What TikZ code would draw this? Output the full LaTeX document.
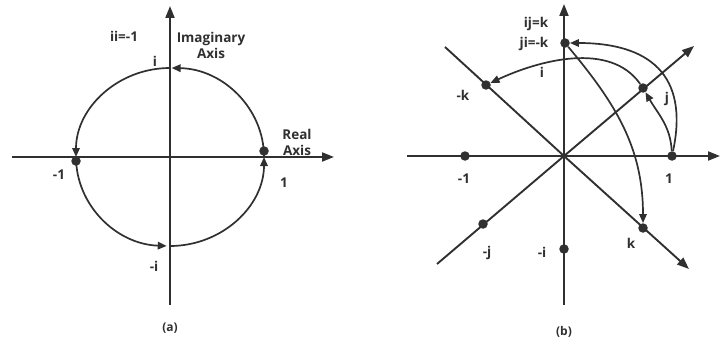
\documentclass[tikz,border=0pt]{standalone}
\usepackage{fontspec}
\setmainfont{Open Sans}
\usetikzlibrary{arrows.meta}
\definecolor{ink}{HTML}{303030}
\begin{document}
\begin{tikzpicture}[x=1pt,y=-1pt,
  axis/.style={ink, line width=1.9pt, -{Triangle[length=12pt,width=9pt]}},
  plainline/.style={ink, line width=1.9pt},
  curvearrow/.style={ink, line width=1.7pt, -{Triangle[length=9pt,width=7.5pt]}},
  dot/.style={circle, fill=ink, inner sep=0pt, minimum size=9.5pt},
  lab/.style={text=ink, font=\bfseries\fontsize{13.5}{16}\selectfont, inner sep=0pt, align=center},
  captext/.style={text=ink, font=\bfseries\fontsize{12}{14}\selectfont, inner sep=0pt}]
\useasboundingbox (0,0) rectangle (720,345);
% ---------- panel (a) ----------
\coordinate (axL) at (12,157);
\coordinate (axR) at (334,157);
\coordinate (ayB) at (170,305);
\coordinate (ayT) at (170,6);
\draw[axis] (axL) -- (axR);
\draw[axis] (ayB) -- (ayT);
\coordinate (p1) at (264,157);
\coordinate (pi) at (170,68);
\coordinate (pm1) at (76,157);
\coordinate (pmi) at (170,246);
\draw[curvearrow] (p1) arc[start angle=0,end angle=89,x radius=94pt,y radius=89pt];
\draw[curvearrow] (pi) arc[start angle=90,end angle=180,x radius=94pt,y radius=89pt];
\draw[curvearrow] (pm1) arc[start angle=180,end angle=268,x radius=94pt,y radius=89pt];
\draw[curvearrow] (pmi) arc[start angle=270,end angle=360,x radius=94pt,y radius=89pt];
\node[dot] (da1) at (264,151) {};
\node[dot] (dam1) at (76,161) {};
\node[lab] (tii) at (124,36) {ii=-1};
\node[lab] (timag) at (211,45) {Imaginary\\Axis};
\node[lab] (ti) at (155,61) {i};
\node[lab] (treal) at (297,142) {Real\\Axis};
\node[lab] (t1) at (284,183) {1};
\node[lab] (tm1) at (59,175) {-1};
\node[lab] (tmi) at (154,266) {-i};
\node[captext] (ca) at (170,328) {(a)};
% ---------- panel (b) ----------
\coordinate (bc) at (564,156);
\coordinate (bxL) at (407,156);
\coordinate (bxR) at (720,156);
\coordinate (byB) at (564,305);
\coordinate (byT) at (564,4);
\coordinate (bjSW) at (437,264);
\coordinate (bjNE) at (694,46);
\coordinate (bkNW) at (445,47);
\coordinate (bkSE) at (689,269);
\draw[axis] (bxL) -- (bxR);
\draw[axis] (byB) -- (byT);
\draw[plainline] (bjSW) -- (bc);
\draw[axis] (bc) -- (bjNE);
\draw[plainline] (bkNW) -- (bc);
\draw[axis] (bc) -- (bkSE);
\node[dot] (one) at (672,156) {};
\node[dot] (mone) at (465,156) {};
\node[dot] (mi) at (564,249) {};
\node[dot] (top) at (565,43) {};
\node[dot] (j) at (643,88) {};
\node[dot] (mj) at (483,224) {};
\node[dot] (mk) at (486,85) {};
\node[dot] (k) at (643,228) {};
\draw[curvearrow] (one) to[out=78,in=0,looseness=1.35] (top);
\draw[curvearrow] (one) to[out=93,in=-60] (j);
\draw[curvearrow] (j) to[out=125,in=25,looseness=0.9] (mk);
\draw[curvearrow] (top) to[out=-50,in=90] (k);
\node[lab] (tij) at (536,24) {ij=k};
\node[lab] (tji) at (534,44) {ji=-k};
\node[lab] (tbi) at (542,72) {i};
\node[lab] (tmk) at (463,95) {-k};
\node[lab] (tj) at (667,99) {j};
\node[lab] (tbm1) at (464,179) {-1};
\node[lab] (tb1) at (669,179) {1};
\node[lab] (tk) at (631,243) {k};
\node[lab] (tmj) at (487,253) {-j};
\node[lab] (tbmi) at (542,252) {-i};
\node[captext] (cb) at (564,332) {(b)};
\end{tikzpicture}
\end{document}
